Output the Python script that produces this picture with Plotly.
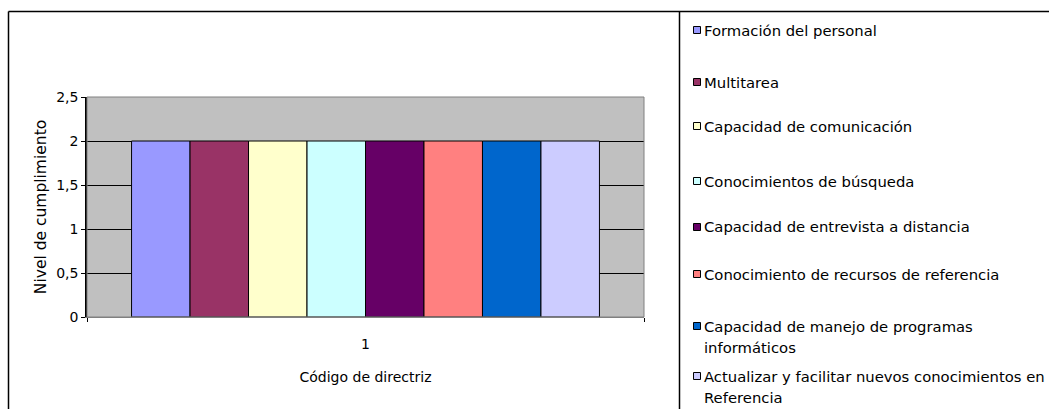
import plotly.graph_objects as go

# ---- data ----
categories = ["1"]
series_names = [
    "Formación del personal",
    "Multitarea",
    "Capacidad de comunicación",
    "Conocimientos de búsqueda",
    "Capacidad de entrevista a distancia",
    "Conocimiento de recursos de referencia",
    "Capacidad de manejo de programas<br>informáticos",
    "Actualizar y facilitar nuevos conocimientos en<br>Referencia",
]
series_values = [2, 2, 2, 2, 2, 2, 2, 2]
series_colors = ["#9999FF", "#993366", "#FFFFCC", "#CCFFFF",
                 "#660066", "#FF8080", "#0066CC", "#CCCCFF"]
y_ticks = [0, 0.5, 1, 1.5, 2, 2.5]

# ---- layout geometry (pixels) ----
W, H = 1049, 409
L, R, T, B = 87, 644, 97, 317
FONT = "DejaVu Sans"


def xp(px):
    return (px - L) / (R - L)


def yp(py):
    return (B - py) / (B - T)


fig = go.Figure()
for name, val, col in zip(series_names, series_values, series_colors):
    fig.add_trace(go.Bar(
        x=categories, y=[val], name=name,
        marker=dict(color=col, line=dict(color="black", width=1)),
        showlegend=False,
    ))

shapes = []
annotations = []

# plot-area border (gray)
shapes.append(dict(type="rect", xref="paper", yref="paper", x0=0, x1=1, y0=0, y1=1,
                   line=dict(color="#808080", width=1), layer="above"))
# outer chart frame
shapes.append(dict(type="line", xref="paper", yref="paper",
                   x0=xp(8.5), x1=xp(W + 5), y0=yp(11.5), y1=yp(11.5),
                   line=dict(color="black", width=1.5)))
shapes.append(dict(type="line", xref="paper", yref="paper",
                   x0=xp(8.5), x1=xp(8.5), y0=yp(11.5), y1=yp(H + 5),
                   line=dict(color="black", width=1.5)))
# legend box left border
shapes.append(dict(type="line", xref="paper", yref="paper",
                   x0=xp(679.5), x1=xp(679.5), y0=yp(11.5), y1=yp(H + 5),
                   line=dict(color="black", width=1.5)))

# legend (manual, to match the original's small keys)
legend_y = [30, 82, 126, 181, 227, 274, 326, 376]
for name, col, cy in zip(series_names, series_colors, legend_y):
    shapes.append(dict(type="rect", xref="paper", yref="paper",
                       x0=xp(693.5), x1=xp(700.5), y0=yp(cy - 3.5), y1=yp(cy + 3.5),
                       fillcolor=col, line=dict(color="black", width=1)))
    for i, line in enumerate(name.split("<br>")):
        annotations.append(dict(
            xref="paper", yref="paper", x=xp(703), y=yp(cy + 21 * i),
            xanchor="left", yanchor="middle", showarrow=False, text=line,
            font=dict(family=FONT, size=14.8, color="black"), borderpad=0))

fig.update_layout(
    width=W, height=H,
    margin=dict(l=L, r=W - R, t=T, b=H - B, pad=0),
    paper_bgcolor="white", plot_bgcolor="#C0C0C0",
    barmode="group", bargap=0.16, bargroupgap=0,
    separators=",.",
    font=dict(family=FONT, size=14, color="black"),
    showlegend=False,
    shapes=shapes, annotations=annotations,
    xaxis=dict(type="category", showgrid=False, showline=True, linecolor="#808080",
               linewidth=1, ticks="outside", tickson="boundaries", ticklen=4,
               tickcolor="black", ticklabelstandoff=14,
               tickfont=dict(family=FONT, size=14),
               title=dict(text="Código de directriz", standoff=21,
                          font=dict(family=FONT, size=14))),
    yaxis=dict(range=[0, 2.5], tickvals=y_ticks, showgrid=True, gridcolor="black",
               gridwidth=1, zeroline=False, showline=True, linecolor="black",
               linewidth=1.5, ticks="outside", ticklen=4, tickcolor="black",
               tickfont=dict(family=FONT, size=14),
               title=dict(text="Nivel de cumplimiento", standoff=6,
                          font=dict(family=FONT, size=15.5))),
)

fig.write_html("out.html")
